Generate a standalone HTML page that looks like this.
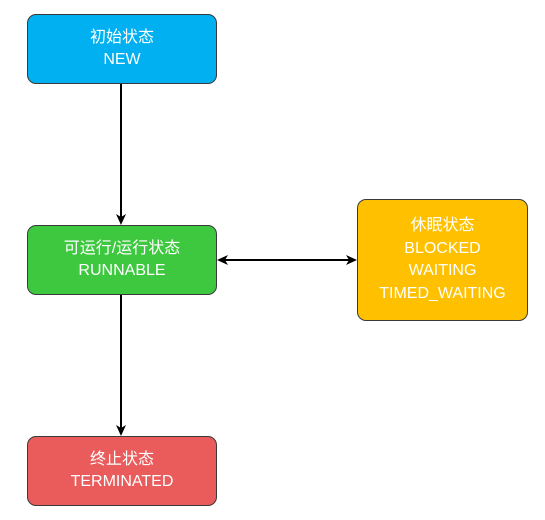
<!DOCTYPE html>
<html><head><meta charset="utf-8"><style>
body{margin:0;width:545px;height:520px;background:#fff;position:relative;overflow:hidden;font-family:"Liberation Sans","Noto Sans CJK SC",sans-serif;}
.b{position:absolute;box-sizing:border-box;border:1.3px solid #3a3a3a;border-radius:9px;color:#fff;font-size:16px;line-height:22.5px;text-align:center;display:flex;flex-direction:column;justify-content:center;}
</style></head><body>
<svg width="545" height="520" style="position:absolute;left:0;top:0">
<line x1="121" y1="83" x2="121" y2="218" stroke="#000" stroke-width="2"/>
<path d="M121,225 L116,214 L121,217 L126,214 Z" fill="#000"/>
<line x1="121" y1="294" x2="121" y2="429" stroke="#000" stroke-width="2"/>
<path d="M121,436 L116,425 L121,428 L126,425 Z" fill="#000"/>
<line x1="222" y1="260" x2="351" y2="260" stroke="#000" stroke-width="2"/>
<path d="M217,260 L228,255 L225,260 L228,265 Z" fill="#000"/>
<path d="M357,260 L346,255 L349,260 L346,265 Z" fill="#000"/>
</svg>
<div class="b" style="left:27px;top:14px;width:190px;height:70px;background:#00b0f0">初始状态<br>NEW</div>
<div class="b" style="left:27px;top:225px;width:190px;height:70px;background:#3ec840">可运行/运行状态<br>RUNNABLE</div>
<div class="b" style="left:27px;top:436px;width:190px;height:70px;background:#ea5b5b">终止状态<br>TERMINATED</div>
<div class="b" style="left:357px;top:199px;width:171px;height:122px;background:#ffc000">休眠状态<br>BLOCKED<br>WAITING<br>TIMED_WAITING</div>
</body></html>
